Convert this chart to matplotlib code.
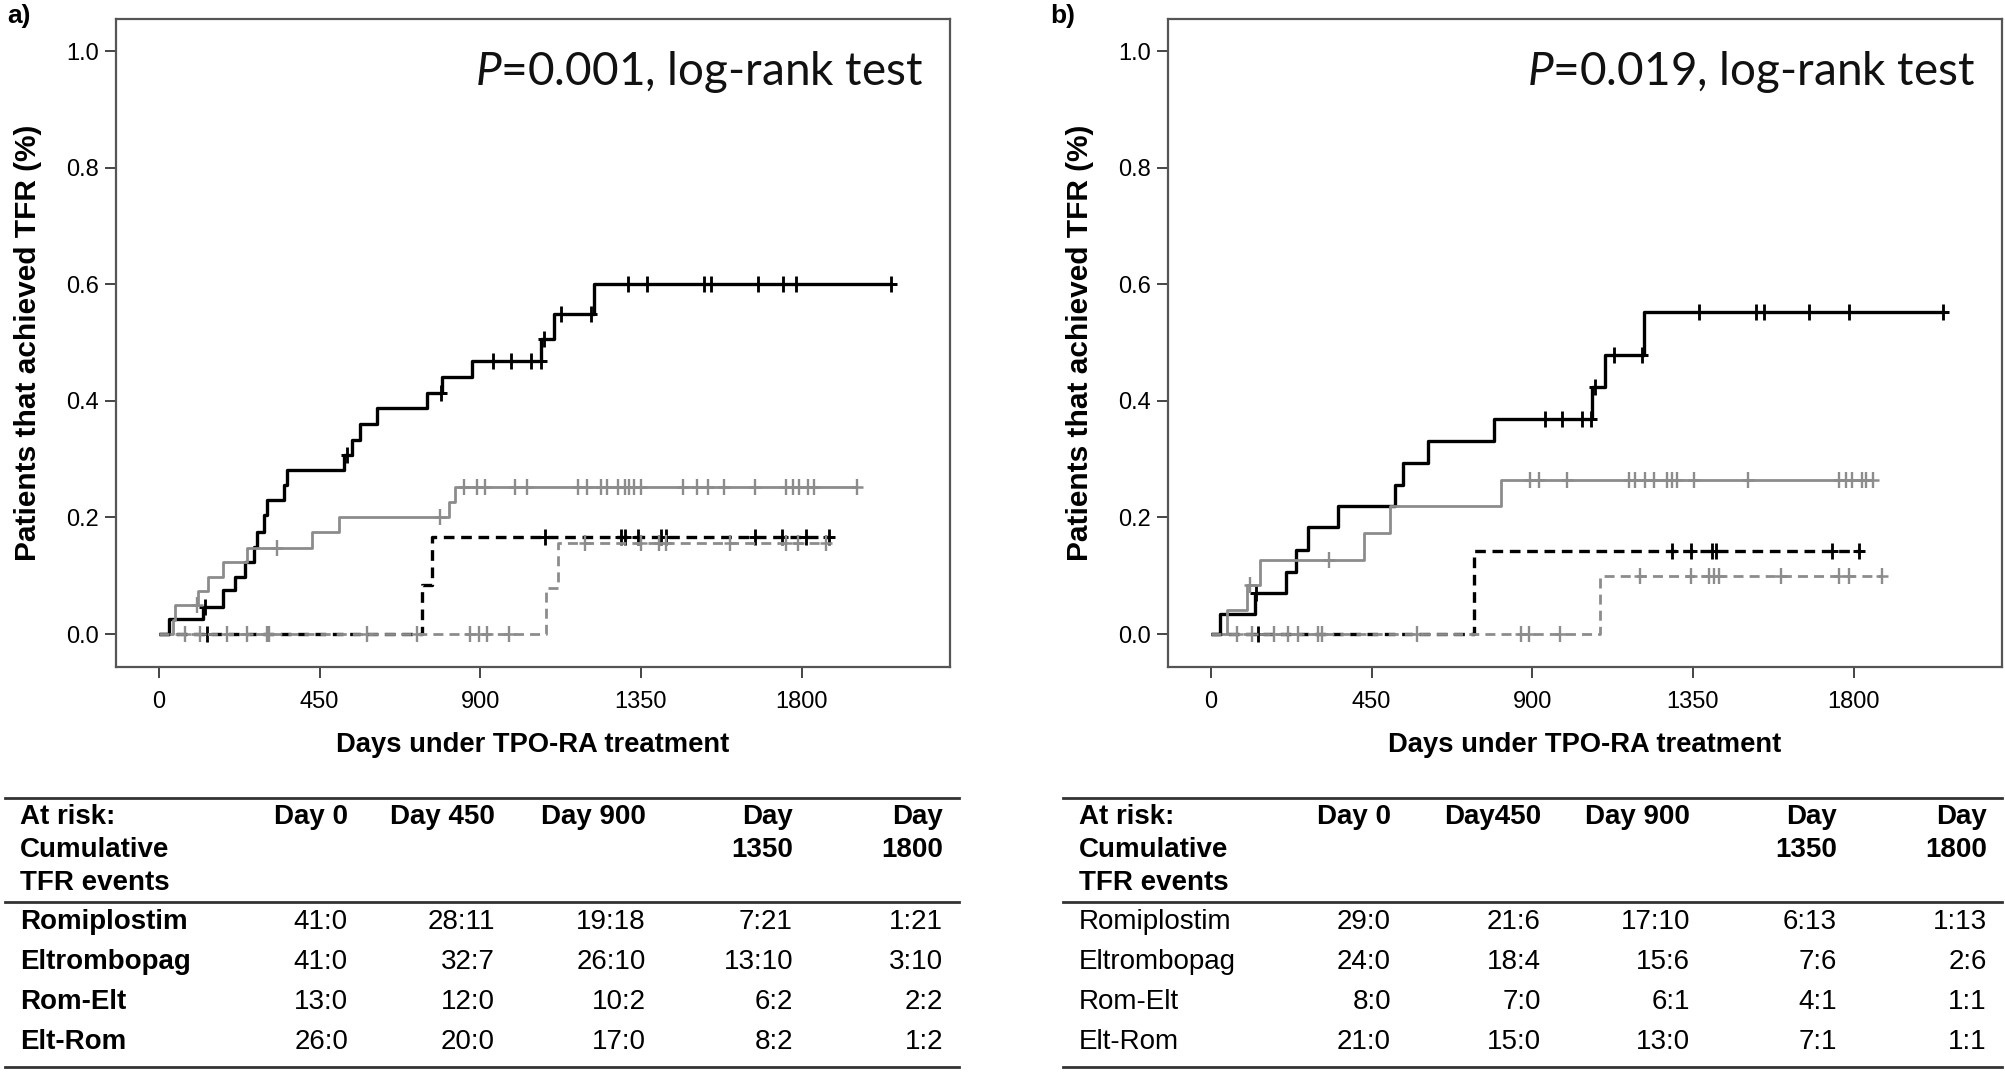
import numpy as np
import matplotlib
matplotlib.use("Agg")
import matplotlib.pyplot as plt
from matplotlib.lines import Line2D

plt.rcParams['font.family'] = ['Liberation Sans', 'DejaVu Sans']
plt.rcParams['mathtext.fontset'] = 'custom'
plt.rcParams['mathtext.it'] = 'Lato:italic'
plt.rcParams['mathtext.rm'] = 'Lato'

# ---- panel a: Kaplan-Meier steps (days, cumulative TFR) and censor days ----
rom_a_t = [0, 29, 122, 180, 213, 241, 265, 274, 293, 302, 349, 358, 518, 540, 564, 611, 751, 793, 877, 1071, 1107, 1218]
rom_a_s = [0, 0.025, 0.047, 0.075, 0.098, 0.124, 0.149, 0.175, 0.204, 0.23, 0.256, 0.281, 0.307, 0.333, 0.361, 0.387, 0.413, 0.441, 0.469, 0.506, 0.549, 0.6]
rom_a_c = [129, 526, 790, 937, 987, 1041, 1069, 1078, 1126, 1209, 1314, 1366, 1526, 1546, 1677, 1747, 1784, 2050]

elt_a_t = [0, 38, 45, 110, 138, 180, 246, 428, 503, 812, 830]
elt_a_s = [0, 0.024, 0.049, 0.073, 0.098, 0.124, 0.147, 0.175, 0.201, 0.226, 0.253]
elt_a_c = [106, 330, 788, 854, 892, 914, 998, 1030, 1174, 1199, 1237, 1256, 1287, 1306, 1318, 1331, 1349, 1469,
           1507, 1538, 1582, 1670, 1756, 1776, 1792, 1818, 1835, 1955]

romelt_a_t = [0, 737, 765]
romelt_a_s = [0, 0.084, 0.167]
romelt_a_c = [134, 1080, 1294, 1306, 1343, 1405, 1419, 1669, 1745, 1812, 1877]

eltrom_a_t = [0, 1085, 1118]
eltrom_a_s = [0, 0.079, 0.156]
eltrom_a_c = [73, 115, 190, 246, 302, 307, 583, 723, 872, 896, 919, 980,
              1192, 1349, 1400, 1419, 1599, 1756, 1790, 1868]

# ---- panel b ----
rom_b_t = [0, 25, 123, 210, 238, 273, 357, 516, 539, 607, 792, 1068, 1105, 1214]
rom_b_s = [0, 0.035, 0.07, 0.107, 0.144, 0.184, 0.22, 0.256, 0.294, 0.331, 0.368, 0.424, 0.479, 0.553]
rom_b_c = [126, 937, 984, 1040, 1064, 1077, 1128, 1208, 1367, 1526, 1549, 1675, 1787, 2050]

elt_b_t = [0, 44, 100, 137, 429, 500, 811]
elt_b_s = [0, 0.042, 0.084, 0.127, 0.173, 0.22, 0.265]
elt_b_c = [108, 331, 895, 918, 998, 1171, 1189, 1217, 1241, 1278, 1292, 1306, 1353, 1503, 1760, 1778, 1797,
           1825, 1834, 1855]

romelt_b_t = [0, 736]
romelt_b_s = [0, 0.143]
romelt_b_c = [132, 1292, 1344, 1404, 1414, 1741, 1815]

eltrom_b_t = [0, 1091]
eltrom_b_s = [0, 0.1]
eltrom_b_c = [72, 114, 175, 217, 245, 301, 310, 577, 867, 890, 979,
              1203, 1344, 1395, 1409, 1423, 1596, 1760, 1788, 1880]

p_text = ["0.001", "0.019"]
panel_tag = ["a)", "b)"]
x_ticks = [0, 450, 900, 1350, 1800]
y_ticks = [0.0, 0.2, 0.4, 0.6, 0.8, 1.0]

# ---- at-risk tables ----
row_names = ["Romiplostim", "Eltrombopag", "Rom-Elt", "Elt-Rom"]
head_rows = ["At risk:", "Cumulative", "TFR events"]
cols_a = ["Day 0", "Day 450", "Day 900", "Day\n1350", "Day\n1800"]
cols_b = ["Day 0", "Day450", "Day 900", "Day\n1350", "Day\n1800"]
risk_a = [["41:0", "28:11", "19:18", "7:21", "1:21"],
          ["41:0", "32:7", "26:10", "13:10", "3:10"],
          ["13:0", "12:0", "10:2", "6:2", "2:2"],
          ["26:0", "20:0", "17:0", "8:2", "1:2"]]
risk_b = [["29:0", "21:6", "17:10", "6:13", "1:13"],
          ["24:0", "18:4", "15:6", "7:6", "2:6"],
          ["8:0", "7:0", "6:1", "4:1", "1:1"],
          ["21:0", "15:0", "13:0", "7:1", "1:1"]]

W, H = 2006, 1072
GRAY = '#8c8c8c'
TFS = 20


def fx(x):
    return x / W


def fy(y):
    return 1 - y / H


def km(ax, t, s, cens, color, ls, lw):
    t = np.array(t, float)
    s = np.array(s, float)
    end = max(cens[-1], t[-1])
    tt = np.append(t, end)
    ss = np.append(s, s[-1])
    ax.step(tt, ss, where='post', color=color, lw=lw, linestyle=ls, solid_capstyle='butt')
    c = np.array(cens, float)
    cv = s[np.searchsorted(t, c, side='right') - 1]
    ax.plot(c, cv, linestyle='none', marker='|', ms=11, mew=lw * 0.85, color=color)
    ax.plot(c, cv, linestyle='none', marker='_', ms=9, mew=lw * 0.9, color=color)


fig = plt.figure(figsize=(W / 100, H / 100), dpi=100)

curves = [
    [(rom_a_t, rom_a_s, rom_a_c, 'black', '-', 2.4),
     (elt_a_t, elt_a_s, elt_a_c, GRAY, '-', 2.0),
     (romelt_a_t, romelt_a_s, romelt_a_c, 'black', (0, (3.2, 2.0)), 2.4),
     (eltrom_a_t, eltrom_a_s, eltrom_a_c, GRAY, (0, (3.6, 2.2)), 2.0)],
    [(rom_b_t, rom_b_s, rom_b_c, 'black', '-', 2.4),
     (elt_b_t, elt_b_s, elt_b_c, GRAY, '-', 2.0),
     (romelt_b_t, romelt_b_s, romelt_b_c, 'black', (0, (3.2, 2.0)), 2.4),
     (eltrom_b_t, eltrom_b_s, eltrom_b_c, GRAY, (0, (3.6, 2.2)), 2.0)],
]

frame_left = [116, 1168]
frame_w = 834
for i in range(2):
    x0 = frame_left[i]
    ax = fig.add_axes([fx(x0), fy(667), frame_w / W, (667 - 19) / H])
    for (t, s, c, col, ls, lw) in curves[i]:
        km(ax, t, s, c, col, ls, lw)
    ax.set_xlim(-120.6, 2216)
    ax.set_ylim(-0.0566, 1.0549)
    ax.set_xticks(x_ticks)
    ax.set_yticks(y_ticks)
    ax.set_yticklabels([f"{v:.1f}" for v in y_ticks])
    ax.tick_params(axis='both', direction='out', length=8, width=1.4, color='#444444', labelsize=17)
    ax.tick_params(axis='x', pad=9)
    ax.tick_params(axis='y', pad=4)
    for sp in ax.spines.values():
        sp.set_color('#555555')
        sp.set_linewidth(1.6)
    ax.text(1 - 27 / frame_w, (667 - 85) / 648, r'$\mathit{P}$=' + p_text[i] + ', log-rank test',
            transform=ax.transAxes, ha='right', va='baseline', fontsize=33, family='Lato', color='#111111')
    off = x0 - 116
    fig.text(fx(7 if i == 0 else 1050), fy(4), panel_tag[i], ha='left', va='top',
             fontsize=19, fontweight='bold')
    fig.text(fx(28 + off), fy(343), "Patients that achieved TFR (%)", rotation=90,
             ha='center', va='center', fontsize=21.5, fontweight='bold')
    fig.text(fx(x0 + frame_w / 2), fy(745), "Days under TPO-RA treatment",
             ha='center', va='center', fontsize=19.7, fontweight='bold')

# tables
tables = [
    dict(x0=5, x1=959, lab=20, rights=[348, 495, 646, 793, 943], cols=cols_a, vals=risk_a, bold_rows=True),
    dict(x0=1063, x1=2002, lab=1079, rights=[1391, 1541, 1690, 1837, 1987], cols=cols_b, vals=risk_b, bold_rows=False),
]
head_y = [817, 850, 883]
row_y = [922, 962, 1002, 1042]
for tb in tables:
    for yl in (798, 902, 1067):
        fig.add_artist(Line2D([fx(tb['x0']), fx(tb['x1'])], [fy(yl), fy(yl)],
                              color='#333333', lw=2.0, transform=fig.transFigure))
    for k, txt in enumerate(head_rows):
        fig.text(fx(tb['lab']), fy(head_y[k]), txt, ha='left', va='center', fontsize=TFS, fontweight='bold')
    for j, col in enumerate(tb['cols']):
        for k, part in enumerate(col.split("\n")):
            fig.text(fx(tb['rights'][j]), fy(head_y[k]), part, ha='right', va='center',
                     fontsize=TFS, fontweight='bold')
    for r, name in enumerate(row_names):
        fig.text(fx(tb['lab']), fy(row_y[r]), name, ha='left', va='center', fontsize=TFS,
                 fontweight='bold' if tb['bold_rows'] else 'normal')
        for j, v in enumerate(tb['vals'][r]):
            fig.text(fx(tb['rights'][j]), fy(row_y[r]), v, ha='right', va='center', fontsize=TFS)

fig.savefig("out.png", dpi=100)
